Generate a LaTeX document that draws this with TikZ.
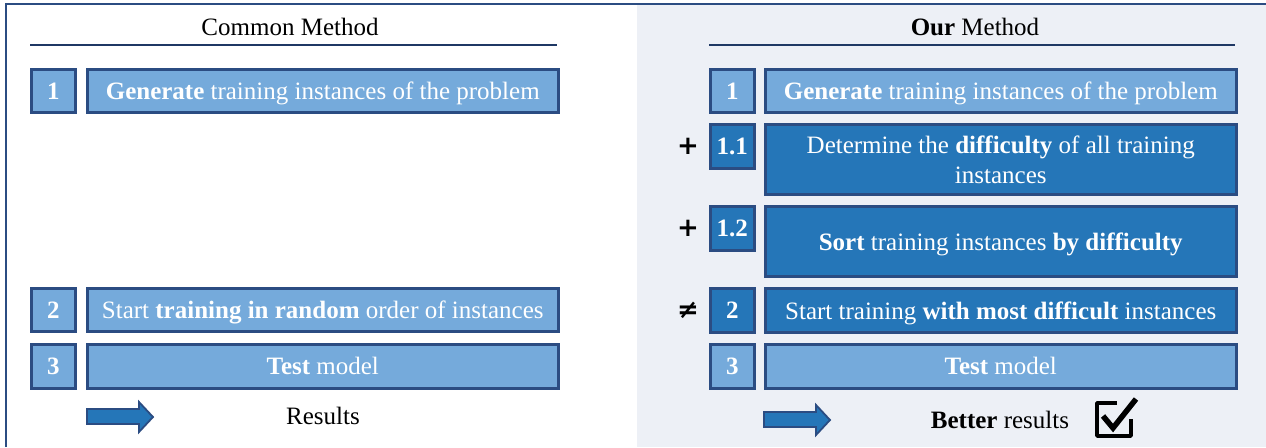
\documentclass[tikz,border=0pt]{standalone}
\usepackage{fontspec}
\setmainfont{Liberation Serif}
\newfontfamily\symfont{DejaVu Sans}
\definecolor{lightc}{HTML}{75AADB}
\definecolor{darkc}{HTML}{2576B8}
\definecolor{bordc}{HTML}{2B4C82}
\definecolor{panelc}{HTML}{EDF0F6}
\definecolor{rulec}{HTML}{1F3864}
\tikzset{
  basebox/.style={draw=bordc, line width=2.5pt, inner sep=0pt, anchor=north west, text=white, align=center, font=\fontsize{25}{30}\selectfont},
  numbox/.style={basebox, fill=lightc, minimum width=44pt, minimum height=#1, font=\bfseries\fontsize{25}{30}\selectfont},
  numbox/.default=43pt,
  txtbox/.style={basebox, fill=lightc, minimum width=471pt, minimum height=#1, text depth=0pt},
  txtbox/.default=43pt,
  darkbox/.style={fill=darkc},
  titletext/.style={font=\fontsize{25}{30}\selectfont, text=black, inner sep=0pt},
  symtext/.style={font=\symfont\bfseries\fontsize{26}{30}\selectfont, text=black, inner sep=0pt},
  blockarrow/.style={draw=bordc, fill=darkc, line width=1.8pt, line join=miter},
}
\begin{document}
\begin{tikzpicture}[x=1pt, y=-1pt]
\useasboundingbox (0,0) rectangle (1266,447);
% right panel
\fill[panelc] (637,5) rectangle (1266,447);
% outer frame
\draw[bordc, line width=2pt] (6,447) -- (6,4) -- (1266,4);

% ---------- Common method ----------
\node[titletext] (ltitle) at (290,27) {Common Method};
\draw[rulec, line width=1.5pt] (30,45) -- (557,45);
\node[numbox] (ln1) at (30,68) {1};
\node[txtbox] (lt1) at (86,68) {\textbf{Generate} training instances of the problem};
\node[numbox] (ln2) at (30,287) {2};
\node[txtbox] (lt2) at (86,287) {Start \textbf{training in random} order of instances};
\node[numbox=44pt] (ln3) at (30,343) {3};
\node[txtbox=44pt] (lt3) at (86,343) {\textbf{Test} model};
\draw[blockarrow] (87,409) -- (139,409) -- (139,402) -- (153,417) -- (139,432) -- (139,424) -- (87,424) -- cycle;
\node[titletext] (lres) at (323,416) {Results};

% ---------- Our method ----------
\node[titletext] (rtitle) at (975,27) {\textbf{Our} Method};
\draw[rulec, line width=1.5pt] (709,45) -- (1235,45);
\node[numbox] (rn1) at (709,68) {1};
\node[txtbox] (rt1) at (764,68) {\textbf{Generate} training instances of the problem};
\node[numbox=44pt, darkbox] (rn11) at (709,123) {1.1};
\node[txtbox=70pt, darkbox] (rt11) at (764,123) {Determine the \textbf{difficulty} of all training\\instances};
\node[numbox=44pt, darkbox] (rn12) at (709,205) {1.2};
\node[txtbox=70pt, darkbox] (rt12) at (764,205) {\textbf{Sort} training instances \textbf{by difficulty}};
\node[numbox=44pt, darkbox] (rn2) at (709,287) {2};
\node[txtbox=44pt, darkbox] (rt2) at (764,287) {Start training \textbf{with most difficult} instances};
\node[numbox=44pt] (rn3) at (709,343) {3};
\node[txtbox=44pt] (rt3) at (764,343) {\textbf{Test} model};
\node[symtext] (s11) at (688,146) {+};
\node[symtext] (s12) at (688,228) {+};
\node[symtext] (s2) at (688,310) {≠};
\draw[blockarrow] (764,412) -- (816,412) -- (816,405) -- (830,420) -- (816,435) -- (816,427) -- (764,427) -- cycle;
\node[titletext] (rres) at (1000,420) {\textbf{Better} results};
% check box
\draw[black, line width=3.5pt, line join=round] (1117,403) -- (1097,403) -- (1097,436) -- (1131,436) -- (1131,419);
\draw[black, line width=5.5pt, line join=miter] (1103,416) -- (1113,428) -- (1136,399);
\end{tikzpicture}
\end{document}
